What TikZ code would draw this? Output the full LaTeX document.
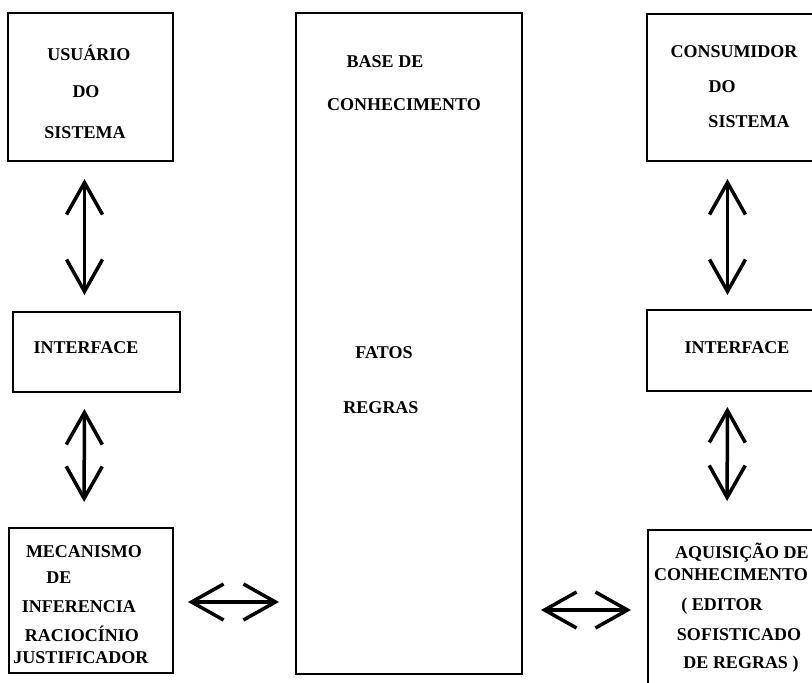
\documentclass[tikz,border=0pt]{standalone}
\usepackage{fontspec}
\setmainfont{Liberation Serif}
\usetikzlibrary{arrows.meta, positioning}

\begin{document}
\begin{tikzpicture}[x=1pt, y=-1pt,
box/.style={draw, rectangle, line width=2pt, inner sep=0pt},
txt/.style={font=\bfseries\fontsize{18}{20}\selectfont, inner sep=0pt, anchor=base},
dbl/.style={{Straight Barb[length=32pt,width=36pt]}-{Straight Barb[length=32pt,width=36pt]}, line width=3.5pt, line cap=round, line join=round} ]

\useasboundingbox (0,0) rectangle (812,683);

\node[box, minimum width=165pt, minimum height=148pt] (usuario) at (90.5,87) {};
\node[box, minimum width=183pt, minimum height=147pt] (consumidor) at (738.5,87.5) {};
\node[box, minimum width=167pt, minimum height=80pt] (intesq) at (96.5,352) {};
\node[box, minimum width=183pt, minimum height=81pt] (intdir) at (738.5,350.5) {};
\node[box, minimum width=164pt, minimum height=145pt] (mecanismo) at (91,600.5) {};
\node[box, minimum width=182pt, minimum height=170pt] (aquisicao) at (739,615) {};
\node[box, minimum width=226pt, minimum height=661pt] (base) at (409,343.5) {};

\node[txt] (u1) at (89,60) {USUÁRIO};
\node[txt] (u2) at (86,97) {DO};
\node[txt] (u3) at (85,138) {SISTEMA};

\node[txt] (c1) at (734,57) {CONSUMIDOR};
\node[txt] (c2) at (722,92) {DO};
\node[txt] (c3) at (749,127) {SISTEMA};

\node[txt] (b1) at (385,67) {BASE DE};
\node[txt] (b2) at (404,110) {CONHECIMENTO};
\node[txt] (b3) at (384,358) {FATOS};
\node[txt] (b4) at (381,413) {REGRAS};

\node[txt] (i1) at (86,353) {INTERFACE};
\node[txt] (i2) at (737,353) {INTERFACE};

\node[txt] (m1) at (84,557) {MECANISMO};
\node[txt] (m2) at (59,583) {DE};
\node[txt] (m3) at (79,612) {INFERENCIA};
\node[txt] (m4) at (82,641) {RACIOCÍNIO};
\node[txt] (m5) at (81,663) {JUSTIFICADOR};

\node[txt] (a1) at (742,558) {AQUISIÇÃO DE};
\node[txt] (a2) at (731,580) {CONHECIMENTO};
\node[txt] (a3) at (722,610) {( EDITOR};
\node[txt] (a4) at (739,640) {SOFISTICADO};
\node[txt] (a5) at (741,668) {DE REGRAS )};

\draw[dbl, shorten <=17pt, shorten >=16pt] ([xshift=-6pt]usuario.south) -- ([xshift=-12pt]intesq.north);
\draw[dbl, shorten <=16pt, shorten >=25pt] ([xshift=-12pt]intesq.south) -- ([xshift=-7pt]mecanismo.north);
\draw[dbl, shorten <=17pt, shorten >=14pt] ([xshift=-11pt]consumidor.south) -- ([xshift=-11pt]intdir.north);
\draw[dbl, shorten <=15pt, shorten >=28pt] ([xshift=-11pt]intdir.south) -- ([xshift=-12pt]aquisicao.north);
\draw[dbl, shorten <=14pt, shorten >=16pt] ([yshift=-1.5pt]mecanismo.east) -- ([yshift=-258.5pt]base.west);
\draw[dbl, shorten <=18pt, shorten >=16pt] ([yshift=-266.5pt]base.east) -- ([yshift=5pt]aquisicao.west);

\end{tikzpicture}
\end{document}
